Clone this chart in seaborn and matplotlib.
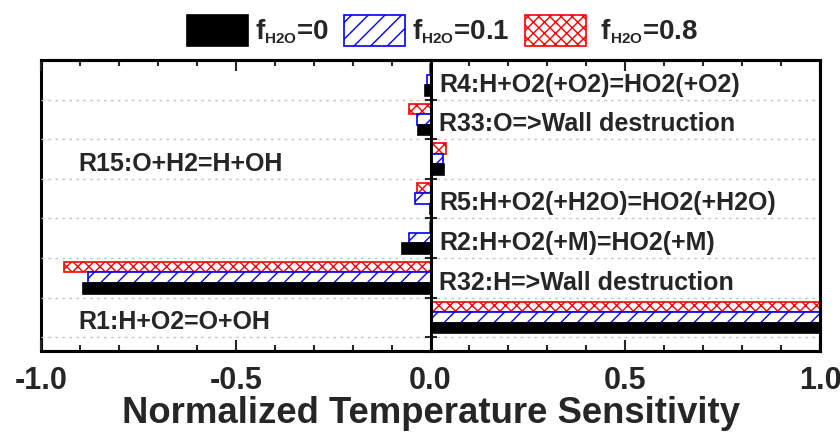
import numpy as np
import pandas as pd
import matplotlib
matplotlib.use("Agg")
import matplotlib.pyplot as plt
import matplotlib.patches as mpatches
from matplotlib.ticker import MultipleLocator
import seaborn as sns

try:
    import matplotlib._mathtext as _mt
    _mt.SHRINK_FACTOR = 0.55
except Exception:
    pass

# ---------------- data ----------------
reactions = [
    "R4:H+O2(+O2)=HO2(+O2)",
    "R33:O=>Wall destruction",
    "R15:O+H2=H+OH",
    "R5:H+O2(+H2O)=HO2(+H2O)",
    "R2:H+O2(+M)=HO2(+M)",
    "R32:H=>Wall destruction",
    "R1:H+O2=O+OH",
]
sens_f0 = [-0.014, -0.033, 0.035, -0.002, -0.072, -0.893, 1.0]
sens_f01 = [-0.010, -0.035, 0.033, -0.040, -0.055, -0.879, 1.0]
sens_f08 = [-0.002, -0.055, 0.039, -0.035, -0.002, -0.942, 1.0]
series_keys = ["0", "0.1", "0.8"]
legend_labels = [r"f$_{\mathrm{H2O}}$=0", r"f$_{\mathrm{H2O}}$=0.1", r" f$_{\mathrm{H2O}}$=0.8"]
x_ticks = [-1.0, -0.5, 0.0, 0.5, 1.0]
x_label = "Normalized Temperature Sensitivity"

# styling (not data)
label_side = ["right", "right", "left", "right", "right", "right", "left"]
styles = {
    "0": dict(facecolor="black", edgecolor="black", hatch=None),
    "0.1": dict(facecolor="white", edgecolor="#0000ff", hatch="//"),
    "0.8": dict(facecolor="white", edgecolor="#ff0000", hatch="xxx"),
}

# ---------------- build table ----------------
df = pd.DataFrame({
    "reaction": reactions * 3,
    "fH2O": [series_keys[0]] * len(reactions) + [series_keys[1]] * len(reactions) + [series_keys[2]] * len(reactions),
    "value": sens_f0 + sens_f01 + sens_f08,
})

sns.set_style("white")
plt.rcParams["font.family"] = ["Liberation Sans", "DejaVu Sans"]
plt.rcParams["font.weight"] = "bold"
plt.rcParams["mathtext.fontset"] = "custom"
plt.rcParams["mathtext.rm"] = "Liberation Sans:bold"
plt.rcParams["mathtext.it"] = "Liberation Sans:bold"
plt.rcParams["mathtext.bf"] = "Liberation Sans:bold"
plt.rcParams["hatch.linewidth"] = 1.0

fig = plt.figure(figsize=(8.4, 4.34), dpi=100)
ax = fig.add_axes([41 / 840, 1 - 351 / 434, (820 - 41) / 840, (351 - 60) / 434])

hue_order = ["0.8", "0.1", "0"]  # top-to-bottom within each group
sns.barplot(data=df, x="value", y="reaction", hue="fH2O", hue_order=hue_order,
            order=reactions, orient="h", width=0.8, saturation=1,
            palette={k: styles[k]["facecolor"] for k in series_keys},
            legend=False, ax=ax)

for cont, key in zip(ax.containers, hue_order):
    st = styles[key]
    for bar in cont:
        bar.set_facecolor(st["facecolor"])
        bar.set_edgecolor(st["edgecolor"])
        bar.set_linewidth(1.2)
        if st["hatch"]:
            bar.set_hatch(st["hatch"])
        bar.set_zorder(2)

n = len(reactions)
ax.set_xlim(-1.0, 1.0)
ax.set_ylim(n - 0.15, -0.5)

# x axis
ax.set_xticks(x_ticks)
ax.set_xticklabels([f"{t:.1f}" for t in x_ticks], fontsize=22, fontweight="bold")
ax.xaxis.set_minor_locator(MultipleLocator(0.1))
ax.tick_params(axis="x", which="both", direction="in", top=True, bottom=True, width=1.5, pad=10.5)
ax.tick_params(axis="x", which="major", length=8)
ax.tick_params(axis="x", which="minor", length=4)
ax.set_xlabel(x_label, fontsize=26.3, fontweight="bold", labelpad=0)

# y axis drawn at zero
ax.spines["left"].set_position(("data", 0))
ax.set_yticks(np.arange(-0.5, n + 0.5, 1))
ax.set_yticklabels([])
ax.set_ylabel("")
ax.tick_params(axis="y", which="major", direction="inout", length=9, width=1.5, left=True)
ax.yaxis.grid(True, linestyle=(0, (2, 3)), color="#c4c4c4", linewidth=1)
ax.xaxis.grid(False)
ax.set_axisbelow(True)

for name in ["left", "right", "top", "bottom"]:
    ax.spines[name].set_linewidth(2.2)
    ax.spines[name].set_color("black")
    ax.spines[name].set_visible(True)
ax.spines["left"].set_zorder(5)

# outer frame on left via axes patch
ax.patch.set_edgecolor("black")
ax.patch.set_linewidth(2.2)

# reaction labels
for i, (name, side) in enumerate(zip(reactions, label_side)):
    x = 0.023 if side == "right" else -0.905
    ax.text(x, i + 0.3, name, ha="left", va="baseline", fontsize=18,
            fontweight="bold", zorder=6)

# legend
handles = []
for key in series_keys:
    st = styles[key]
    handles.append(mpatches.Patch(facecolor=st["facecolor"], edgecolor=st["edgecolor"],
                                  hatch=st["hatch"], linewidth=1.2))
fig.legend(handles, legend_labels, loc="center", bbox_to_anchor=(0.527, 0.93), ncol=3,
           frameon=False, prop=dict(size=20, weight="bold"), handlelength=2.2,
           handleheight=1.35, handletextpad=0.25, columnspacing=0.55, borderaxespad=0,
           borderpad=0)

fig.savefig("out.png", dpi=100)
